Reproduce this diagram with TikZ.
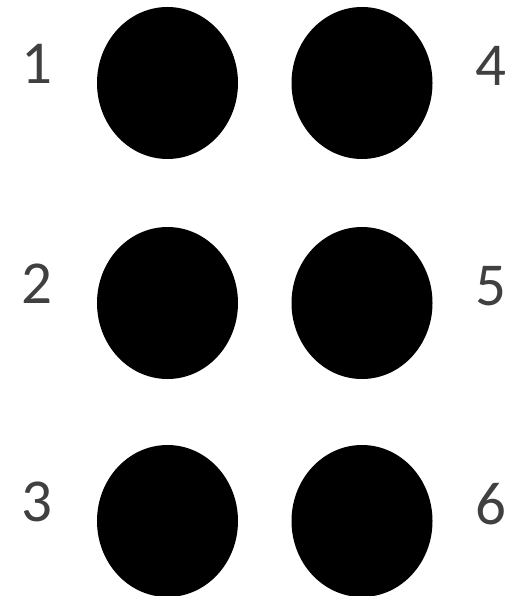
\documentclass[tikz,border=0pt]{standalone}
\usepackage{fontspec}
\setmainfont{Carlito}
\usepackage{xcolor}
\usetikzlibrary{shapes.geometric}

\begin{document}
\begin{tikzpicture}[x=1pt, y=-1pt,
  dot/.style={ellipse, fill=black, minimum width=141pt, minimum height=152pt, inner sep=0pt},
  num/.style={text=black!75, font=\fontsize{61}{61}\selectfont, inner sep=0pt}]
\useasboundingbox (0,0) rectangle (510,596);
\foreach \n/\y in {1/83, 2/303, 3/521} {
  \node[dot] (d\n) at (167.5,\y) {};
  \node[num] (l\n) at (37,\y-19) {\n};
}
\foreach \n/\y in {4/83, 5/303, 6/521} {
  \node[dot] (d\n) at (362,\y) {};
  \node[num] (l\n) at (491,\y-17) {\n};
}
\end{tikzpicture}
\end{document}
